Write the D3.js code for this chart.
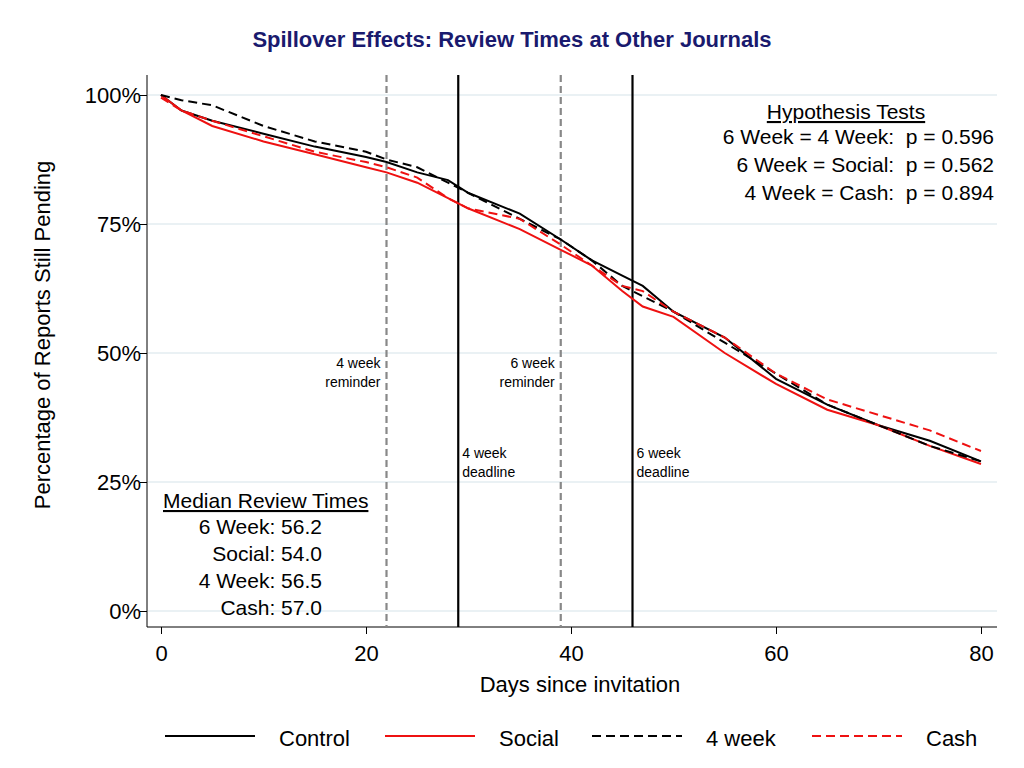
<!DOCTYPE html>
<html><head><meta charset="utf-8">
<script src="https://cdn.jsdelivr.net/npm/d3@7"></script>
<style>body{margin:0;background:#fff;font-family:"Liberation Sans",Arial,sans-serif}</style>
</head><body><div id="chart"></div>
<script>
const days = [0,2,5,10,15,20,22,25,28,30,35,39,42,45,47,50,55,60,65,70,75,80];
const control = [100,97,95,92.5,90,88,87,85,83.5,81,77,72,68,65,63,58,53,45,40,36,33,29];
const social  = [100,97,94,91,88.5,86,85,83,80,78,74,70,67,62,59,57,50,44,39,36,32,28.5];
const week4   = [100,99,98,94,91,89,87.5,86,83,81,76,72,68,63,61,58,52,46,40,36,32,29];
const cash    = [99.5,97,95,92,89,87,86,84,80,78,76,71,67,63,62,58,53,46,41,38,35,31];
const yTicks = [0,25,50,75,100];
const xTicks = [0,20,40,60,80];
const series = [
  {name:"Control", values:control, color:"#000", dash:null},
  {name:"Social", values:social, color:"#ee1111", dash:null},
  {name:"4 week", values:week4, color:"#000", dash:"9,5"},
  {name:"Cash", values:cash, color:"#ee1111", dash:"9,5"}
];
const vlines = [
  {d:22, dashed:true, label:["4 week","reminder"], side:"left", y:368},
  {d:29, dashed:false, label:["4 week","deadline"], side:"right", y:458},
  {d:39, dashed:true, label:["6 week","reminder"], side:"left", y:368},
  {d:46, dashed:false, label:["6 week","deadline"], side:"right", y:458}
];
const FONT = "Liberation Sans";

const svg = d3.select("#chart").append("svg").attr("width",1024).attr("height",768)
  .attr("font-family",FONT);
const x = d3.scaleLinear().domain([0,80]).range([161,981]);
const y = d3.scaleLinear().domain([0,100]).range([611,95]);

svg.append("text").attr("x",512).attr("y",47).attr("text-anchor","middle")
  .attr("font-size","22px").attr("font-weight","bold").attr("fill","#1a1a6e")
  .text("Spillover Effects: Review Times at Other Journals");

// grid
svg.selectAll(".grid").data(yTicks).join("line")
  .attr("x1",148).attr("x2",997).attr("y1",d=>y(d)).attr("y2",d=>y(d))
  .attr("stroke","#e3ecf0").attr("stroke-width",1.5);

// axes
const gy = svg.append("g").attr("transform","translate(147,0)")
  .call(d3.axisLeft(y).tickValues(yTicks).tickFormat(d=>d+"%").tickSize(7));
gy.select(".domain").attr("d","M0,75V627");
gy.selectAll("text").attr("font-size","22px").attr("font-family",FONT).attr("fill","#000").attr("x",-6);
const gx = svg.append("g").attr("transform","translate(0,627)")
  .call(d3.axisBottom(x).tickValues(xTicks).tickSize(7));
gx.select(".domain").attr("d","M147,0H997");
gx.selectAll("text").attr("font-size","22px").attr("font-family",FONT).attr("fill","#000").attr("dy","1.1em");

svg.append("text").attr("x",580).attr("y",692).attr("text-anchor","middle").attr("font-size","22px").text("Days since invitation");
svg.append("text").attr("transform","translate(50,335) rotate(-90)").attr("text-anchor","middle").attr("font-size","22px").text("Percentage of Reports Still Pending");

// vertical lines
vlines.forEach(v=>{
  svg.append("line").attr("x1",x(v.d)).attr("x2",x(v.d)).attr("y1",75).attr("y2",627)
    .attr("stroke",v.dashed?"#888":"#000").attr("stroke-width",2.2)
    .attr("stroke-dasharray",v.dashed?"7,4":null);
  const xx = x(v.d)+(v.side==="left"?-6:4);
  const t = svg.append("text").attr("font-size","14px")
    .attr("text-anchor",v.side==="left"?"end":"start").attr("x",xx).attr("y",v.y);
  v.label.forEach((l,i)=>t.append("tspan").attr("x",xx).attr("dy",i?19:0).text(l));
});

// series
const line = d3.line().x((d,i)=>x(days[i])).y(d=>y(d));
series.forEach(s=>{
  svg.append("path").datum(s.values).attr("d",line).attr("fill","none")
    .attr("stroke",s.color).attr("stroke-width",2).attr("stroke-dasharray",s.dash);
});

// hypothesis tests
const hyp = ["6 Week = 4 Week:  p = 0.596","6 Week = Social:  p = 0.562","4 Week = Cash:  p = 0.894"];
svg.append("text").attr("x",846).attr("y",119).attr("text-anchor","middle").attr("font-size","21px")
  .attr("text-decoration","underline").text("Hypothesis Tests");
hyp.forEach((h,i)=>svg.append("text").attr("x",994).attr("y",144+i*28).attr("text-anchor","end")
  .attr("font-size","21px").attr("xml:space","preserve").text(h));

const med = ["6 Week: 56.2","Social: 54.0","4 Week: 56.5","Cash: 57.0"];
svg.append("text").attr("x",163).attr("y",508).attr("font-size","21px")
  .attr("text-decoration","underline").text("Median Review Times");
med.forEach((m,i)=>svg.append("text").attr("x",322).attr("y",534+i*27).attr("text-anchor","end")
  .attr("font-size","21px").text(m));

// legend
const lx = [165,385,592,812];
series.forEach((s,i)=>{
  svg.append("line").attr("x1",lx[i]).attr("x2",lx[i]+90).attr("y1",736).attr("y2",736)
    .attr("stroke",s.color).attr("stroke-width",2.2).attr("stroke-dasharray",s.dash);
  svg.append("text").attr("x",lx[i]+114).attr("y",746).attr("font-size","22px").text(s.name);
});
</script></body></html>
